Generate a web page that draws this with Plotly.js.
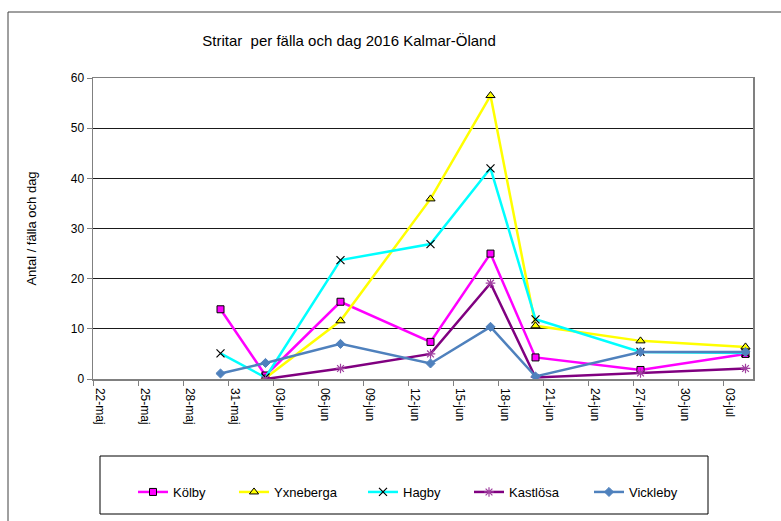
<!DOCTYPE html>
<html>
<head>
<meta charset="utf-8">
<script src="https://cdn.plot.ly/plotly-3.0.1.min.js"></script>
<style>html,body{margin:0;padding:0;background:#fff;}#chart{width:781px;height:521px;}</style>
</head>
<body>
<div id="chart"></div>
<script>
// ---- Data ----
const chartTitle = "Stritar  per fälla och dag 2016 Kalmar-Öland";
const yTitle = "Antal / fälla och dag";

const datesKolby = ["2016-05-30","2016-06-02","2016-06-07","2016-06-13","2016-06-17","2016-06-20","2016-06-27","2016-07-04"];
const kolby      = [13.9, 0.7, 15.4, 7.4, 25.0, 4.3, 1.8, 5.0];

const datesYxneberga = ["2016-06-02","2016-06-07","2016-06-13","2016-06-17","2016-06-20","2016-06-27","2016-07-04"];
const yxneberga      = [0.2, 11.6, 35.9, 56.5, 10.6, 7.6, 6.4];

const datesHagby = ["2016-05-30","2016-06-02","2016-06-07","2016-06-13","2016-06-17","2016-06-20","2016-06-27","2016-07-04"];
const hagby      = [5.1, 0.3, 23.7, 26.9, 42.0, 11.9, 5.4, 5.2];

const datesKastlosa = ["2016-06-02","2016-06-07","2016-06-13","2016-06-17","2016-06-20","2016-06-27","2016-07-04"];
const kastlosa      = [0.0, 2.1, 5.0, 19.1, 0.3, 1.2, 2.1];

const datesVickleby = ["2016-05-30","2016-06-02","2016-06-07","2016-06-13","2016-06-17","2016-06-20","2016-06-27","2016-07-04"];
const vickleby      = [1.1, 3.2, 7.0, 3.1, 10.4, 0.5, 5.4, 5.4];

const tickDates  = ["2016-05-22","2016-05-25","2016-05-28","2016-05-31","2016-06-03","2016-06-06","2016-06-09","2016-06-12","2016-06-15","2016-06-18","2016-06-21","2016-06-24","2016-06-27","2016-06-30","2016-07-03"];
const tickLabels = ["22-maj","25-maj","28-maj","31-maj","03-jun","06-jun","09-jun","12-jun","15-jun","18-jun","21-jun","24-jun","27-jun","30-jun","03-jul"];

// ---- Chart ----
const FONT = "Liberation Sans, Arial, sans-serif";
const DAY = 86400000;

function trace(name, x, y, color, marker, legendId) {
  return {
    type: "scatter", mode: "lines+markers", name: name,
    x: x, y: y, xperiod: DAY, xperiodalignment: "middle",
    line: {color: color, width: 2.5},
    marker: marker,
    legend: legendId
  };
}

const data = [
  trace("Kölby", datesKolby, kolby, "#FF00FF",
        {symbol: "square", size: 7, color: "#FF00FF", line: {color: "#000", width: 1}}, "legend"),
  trace("Yxneberga", datesYxneberga, yxneberga, "#FFFF00",
        {symbol: "triangle-up", size: 8, color: "#FFFF00", line: {color: "#000", width: 1}}, "legend2"),
  trace("Hagby", datesHagby, hagby, "#00FFFF",
        {symbol: "x-thin-open", size: 8, color: "#000", line: {color: "#000", width: 1.2}}, "legend3"),
  trace("Kastlösa", datesKastlosa, kastlosa, "#800080",
        {symbol: "asterisk-open", size: 8, color: "#A040A0", line: {color: "#A040A0", width: 1.2}}, "legend4"),
  trace("Vickleby", datesVickleby, vickleby, "#4F81BD",
        {symbol: "diamond", size: 7, color: "#4F81BD", line: {color: "#4F81BD", width: 1}}, "legend5")
];

const L = 93, R = 28, T = 78, B = 142;
const PW = 781 - L - R, PH = 521 - T - B;
const px2x = p => (p - L) / PW;
const py2y = p => (521 - B - p) / PH;

function leg(pxX) {
  return {
    x: px2x(pxX), xanchor: "left", y: py2y(492), yanchor: "middle",
    orientation: "h", bgcolor: "rgba(0,0,0,0)", borderwidth: 0,
    font: {family: FONT, size: 13, color: "#000"}
  };
}

const layout = {
  width: 781, height: 521,
  paper_bgcolor: "#fff", plot_bgcolor: "#fff",
  margin: {l: L, r: R, t: T, b: B, autoexpand: false},
  font: {family: FONT, color: "#000"},
  title: {text: chartTitle, x: 349/781, xanchor: "center", xref: "container",
          y: 1 - 41/521, yanchor: "middle", yref: "container",
          font: {family: FONT, size: 15, color: "#000"}},
  xaxis: {
    type: "date", range: ["2016-05-22", "2016-07-05"],
    tickmode: "array", tickvals: tickDates, ticktext: tickLabels,
    tickangle: 90, ticklabelshift: 7,
    ticks: "outside", ticklen: 5, tickcolor: "#808080", tickwidth: 1,
    tickfont: {family: FONT, size: 12, color: "#000"},
    showgrid: false, zeroline: false,
    showline: true, linecolor: "#808080", linewidth: 1.5, mirror: true,
    fixedrange: true
  },
  yaxis: {
    range: [0, 60], tickmode: "array", tickvals: [0,10,20,30,40,50,60],
    ticks: "outside", ticklen: 5, tickcolor: "#808080", tickwidth: 1,
    tickfont: {family: FONT, size: 12, color: "#000"},
    showgrid: true, gridcolor: "#1a1a1a", gridwidth: 1,
    zeroline: false, showline: true, linecolor: "#808080", linewidth: 1.5, mirror: true,
    automargin: false,
    title: {text: yTitle, standoff: 31, font: {family: FONT, size: 13, color: "#000"}},
    fixedrange: true
  },
  showlegend: true,
  legend: leg(133), legend2: leg(234), legend3: leg(363), legend4: leg(469), legend5: leg(589),
  shapes: [
    {type: "rect", xref: "paper", yref: "paper",
     x0: px2x(8), x1: px2x(810), y0: py2y(560), y1: py2y(12),
     line: {color: "#404040", width: 1}, fillcolor: "rgba(0,0,0,0)"},
    {type: "rect", xref: "paper", yref: "paper",
     x0: px2x(100), x1: px2x(708), y0: py2y(514), y1: py2y(456),
     line: {color: "#000", width: 1}, fillcolor: "rgba(0,0,0,0)"}
  ]
};

Plotly.newPlot("chart", data, layout, {displayModeBar: false, staticPlot: true});
</script>
</body>
</html>
